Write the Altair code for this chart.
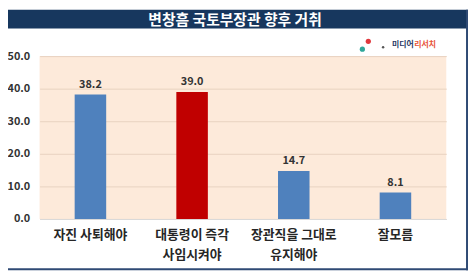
import altair as alt
import pandas as pd

categories = ["자진 사퇴해야", "대통령이 즉각\n사임시켜야", "장관직을 그대로\n유지해야", "잘모름"]
values = [38.2, 39.0, 14.7, 8.1]
bar_colors = ["#4F81BD", "#C00000", "#4F81BD", "#4F81BD"]
y_ticks = [0, 10, 20, 30, 40, 50]
title_text = "변창흠 국토부장관 향후 거취"

df = pd.DataFrame({"cat": categories, "val": values, "label": [f"{v:.1f}" for v in values]})

W, H = 412, 165
FONT = "Noto Sans CJK KR"

x_enc = alt.X("cat:N", sort=categories,
              scale=alt.Scale(paddingInner=0.69, paddingOuter=0.345),
              axis=alt.Axis(title=None, labelAngle=0, ticks=False, domain=True,
                            domainColor="#D9D9D9", domainWidth=1, grid=False,
                            labelExpr="split(datum.label, '\\n')",
                            labelFont=FONT, labelFontSize=13, labelFontWeight="bold",
                            labelColor="#262626", labelPadding=10, labelLineHeight=20,
                            labelBaseline="top", labelOverlap=False))
y_enc = alt.Y("val:Q", scale=alt.Scale(domain=[0, 50], nice=False),
              axis=alt.Axis(title=None, values=y_ticks, format=".1f", tickCount=6,
                            ticks=False, domain=False, grid=True,
                            gridColor="#E8D2C0", gridWidth=1, labelOverlap=False,
                            labelFont=FONT, labelFontSize=11, labelFontWeight="bold",
                            labelColor="#333333", labelPadding=10))

base = alt.Chart(df)

bars = base.mark_bar().encode(
    x=x_enc,
    y=y_enc,
    color=alt.Color("cat:N", scale=alt.Scale(domain=categories, range=bar_colors), legend=None),
)

labels = base.mark_text(font=FONT, fontSize=11, fontWeight="bold", color="#333333",
                        baseline="bottom", dy=-5).encode(
    x=x_enc,
    y=y_enc,
    text="label:N",
)

one = pd.DataFrame({"t": [title_text]})

banner = alt.Chart(one).mark_rect(color="#17375E").encode(
    x=alt.value(-32), x2=alt.value(434), y=alt.value(-47), y2=alt.value(-28))

title = alt.Chart(one).mark_text(
    font=FONT, fontSize=15, fontWeight="bold", color="white", align="center",
    baseline="middle").encode(x=alt.value(198), y=alt.value(-37), text="t:N")

border_r = alt.Chart(one).mark_rule(color="#2F4A74", strokeWidth=2).encode(
    x=alt.value(433), y=alt.value(-47), y2=alt.value(217))
border_b = alt.Chart(one).mark_rule(color="#2F4A74", strokeWidth=2).encode(
    x=alt.value(-32), x2=alt.value(434), y=alt.value(216))

logo1 = alt.Chart(pd.DataFrame({"t": ["미디어"]})).mark_text(
    font=FONT, fontSize=8, fontWeight="bold", color="#1F3864", align="left",
    baseline="middle").encode(x=alt.value(357), y=alt.value(-11), text="t:N")
logo2 = alt.Chart(pd.DataFrame({"t": ["리서치"]})).mark_text(
    font=FONT, fontSize=8, fontWeight="bold", color="#E8543A", align="left",
    baseline="middle").encode(x=alt.value(379.5), y=alt.value(-11), text="t:N")
dot1 = alt.Chart(one).mark_circle(color="#E0393E", size=28, opacity=1).encode(
    x=alt.value(333), y=alt.value(-15))
dot2 = alt.Chart(one).mark_circle(color="#2FA79A", size=28, opacity=1).encode(
    x=alt.value(327), y=alt.value(-7))
dot3 = alt.Chart(one).mark_circle(color="#555555", size=6, opacity=1).encode(
    x=alt.value(348), y=alt.value(-9))

chart = alt.layer(bars, labels, banner, title, border_r, border_b, logo1, logo2, dot1, dot2, dot3).properties(
    width=W, height=H,
    autosize=alt.AutoSizeParams(type="none"),
    padding={"left": 32, "top": 47, "right": 22, "bottom": 52},
    background="white",
).configure_view(fill="#FDEADA", stroke=None)

chart.save("out.html", embed_options={"renderer": "svg", "actions": False})
